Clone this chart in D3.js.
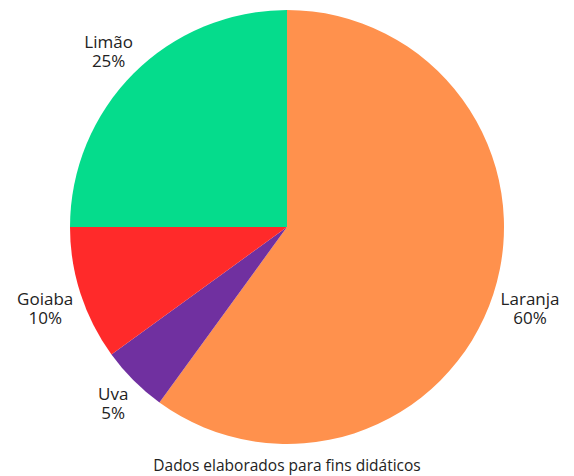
<!DOCTYPE html>
<html>
<head>
<meta charset="utf-8">
<script src="https://cdn.jsdelivr.net/npm/d3@7"></script>
<style>
  body { margin: 0; background: #fff; }
  text { font-family: "Open Sans", sans-serif; fill: #222; }
</style>
</head>
<body>
<svg width="574" height="476"></svg>
<script>
var labels = ["Laranja", "Uva", "Goiaba", "Limão"],
    values = [60, 5, 10, 25],
    colors = ["#ff914d", "#7030a0", "#ff2a2a", "#05dc8c"];

var svg = d3.select("svg"),
    cx = 287,
    cy = 227,
    r = 217,
    gap = 5;

var data = labels.map((l, i) => ({label: l, value: values[i], color: colors[i]}));

var pie = d3.pie()
            .value(d => d.value)
            .sort(null);

var arc = d3.arc().innerRadius(0).outerRadius(r);

var g = svg.append("g")
           .attr("transform", `translate(${cx},${cy})`);

g.selectAll("path")
 .data(pie(data))
 .enter().append("path")
 .attr("d", arc)
 .attr("fill", d => d.data.color);

var lab = g.selectAll("text.lab")
           .data(pie(data))
           .enter().append("text")
           .attr("class", "lab")
           .attr("text-anchor", "middle")
           .attr("font-size", 17);

lab.append("tspan").attr("x", 0).attr("y", 0).text(d => d.data.label);
lab.append("tspan").attr("x", 0).attr("dy", 19).text(d => d.data.value + "%");

// push each label box outward along the slice's mid angle until it clears the pie
lab.each(function(d) {
  var bb = this.getBBox(),
      w = bb.width,
      h = bb.height - 5,   // ignore most of the last line's descent
      a = (d.startAngle + d.endAngle) / 2,
      dx = Math.sin(a),
      dy = -Math.cos(a);

  function dist(t) {
    var x = t * dx, y = t * dy;
    var nx = Math.max(x - w / 2, Math.min(0, x + w / 2));
    var ny = Math.max(y - h / 2, Math.min(0, y + h / 2));
    return Math.hypot(nx, ny);
  }

  var lo = 0, hi = 600;
  for (var i = 0; i < 50; i++) {
    var mid = (lo + hi) / 2;
    if (dist(mid) < r + gap) lo = mid; else hi = mid;
  }
  var tx = hi * dx - (bb.x + w / 2),
      ty = hi * dy - (bb.y + h / 2);
  d3.select(this).attr("transform", `translate(${tx},${ty})`);
});

svg.append("text")
   .attr("x", cx)
   .attr("y", 471)
   .attr("text-anchor", "middle")
   .attr("font-size", 15.5)
   .text("Dados elaborados para fins didáticos");
</script>
</body>
</html>
